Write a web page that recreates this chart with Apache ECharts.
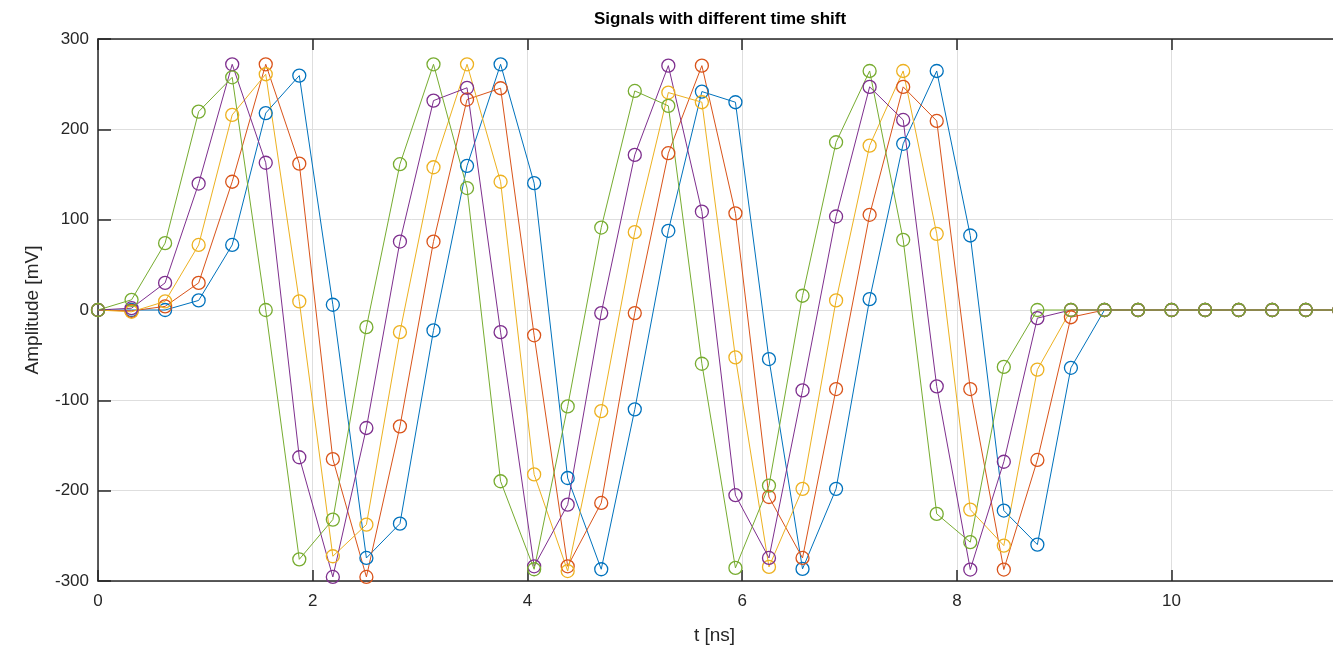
<!DOCTYPE html>
<html>
<head>
<meta charset="utf-8">
<script src="https://cdn.jsdelivr.net/npm/echarts@6/dist/echarts.min.js"></script>
<style>
  html, body { margin: 0; padding: 0; background: #fff; overflow: hidden; }
  /* wider than the window: the axes box runs past the right edge, like the reference */
  #chart { width: 1360px; height: 651px; }
</style>
</head>
<body>
<div id="chart"></div>
<script>
// sample times [ns]
const times = [0, 0.3125, 0.625, 0.9375, 1.25, 1.5625, 1.875, 2.1875, 2.5, 2.8125,
  3.125, 3.4375, 3.75, 4.0625, 4.375, 4.6875, 5, 5.3125, 5.625, 5.9375,
  6.25, 6.5625, 6.875, 7.1875, 7.5, 7.8125, 8.125, 8.4375, 8.75, 9.0625,
  9.375, 9.6875, 10, 10.3125, 10.625, 10.9375, 11.25, 11.5625]

// amplitudes [mV], one array per shifted signal
const blue = [0, 0, 0, 10.6, 72, 218, 259.5, 5.8, -274.5, -236.5,
  -22.6, 159.6, 272, 140.4, -186, -287, -110, 87.7, 241.8, 230,
  -54.3, -286.6, -198, 12, 184, 264.6, 82.5, -222, -259.7, -64,
  0, 0, 0, 0, 0, 0, 0, 0]
const orange = [0, -1, 4, 30, 142, 272, 162, -165, -295.5, -128.8,
  75.8, 233, 245.5, -28, -283.7, -213.6, -3.4, 173.6, 270.5, 107,
  -207, -274.5, -87.5, 105.4, 247, 209.3, -87.5, -287.3, -166, -8,
  0, 0, 0, 0, 0, 0, 0, 0]
const yellow = [0, -2, 9.5, 72, 216, 261, 9.5, -272.6, -237.6, -24.5,
  158, 272, 142, -182, -289, -112, 86.2, 240.7, 230, -52.5,
  -284.4, -198, 10.6, 182, 264.6, 84.3, -221, -260.8, -66, 0,
  0, 0, 0, 0, 0, 0, 0, 0]
const purple = [0, 2, 30, 140, 272, 163, -163, -295.5, -130.6, 75.8,
  231.8, 246, -24.5, -283.7, -215.5, -3.4, 171.7, 270.5, 109, -205,
  -274.5, -89, 103.5, 247, 210.4, -84.5, -287.3, -168, -9, 0,
  0, 0, 0, 0, 0, 0, 0, 0]
const green = [0, 11.3, 74, 219.6, 257.6, 0, -276, -232, -19, 161.4,
  272, 135, -189.6, -287, -106.7, 91.3, 242.5, 226, -59.5, -285.5,
  -194.4, 15.8, 185.7, 264.6, 77.7, -225.7, -257, -63, 0, 0,
  0, 0, 0, 0, 0, 0, 0, 0]

const xTicks = [0, 2, 4, 6, 8, 10]

const signals = [
  { name: 'blue', values: blue, color: '#0072BD' },
  { name: 'orange', values: orange, color: '#D95319' },
  { name: 'yellow', values: yellow, color: '#EDB120' },
  { name: 'purple', values: purple, color: '#7E2F8E' },
  { name: 'green', values: green, color: '#77AC30' }
]

const font = 'Liberation Sans, Arial, sans-serif'
const axisColor = '#262626'

const chart = echarts.init(document.getElementById('chart'))

const series = signals.map((s) => ({
  name: s.name,
  type: 'line',
  data: times.map((t, i) => [t, s.values[i]]),
  symbol: 'circle',
  symbolSize: 13,
  showAllSymbol: true,
  clip: true,
  lineStyle: { color: s.color, width: 1 },
  itemStyle: { color: 'rgba(0,0,0,0)', borderColor: s.color, borderWidth: 1.3 },
  emphasis: { disabled: true }
}))

const option = {
  animation: false,
  backgroundColor: '#fff',
  title: {
    text: 'Signals with different time shift',
    left: 715,
    textAlign: 'center',
    top: 6,
    textStyle: { fontFamily: font, fontSize: 17, fontWeight: 'bold', color: '#000' }
  },
  grid: { left: 98, top: 39, right: 7, bottom: 70, containLabel: false },
  xAxis: [
    {
      type: 'value',
      min: 0,
      max: 11.69,
      interval: 2,
      name: 't [ns]',
      nameLocation: 'middle',
      nameGap: 45,
      // centre the title on the visible part of the axes
      nameTextStyle: { fontFamily: font, fontSize: 19, color: axisColor, padding: [0, 22, 0, 0] },
      axisLine: { show: true, onZero: false, lineStyle: { color: axisColor, width: 1.5 } },
      axisTick: { show: true, inside: true, length: 11, lineStyle: { color: axisColor, width: 1.5 } },
      axisLabel: {
        fontFamily: font, fontSize: 17, color: axisColor, margin: 12,
        formatter: (v) => (xTicks.includes(v) ? String(v) : '')
      },
      splitLine: { show: true, lineStyle: { color: '#dedede', width: 1 } }
    },
    {
      type: 'value',
      position: 'top',
      min: 0,
      max: 11.69,
      interval: 2,
      axisLine: { show: true, onZero: false, lineStyle: { color: axisColor, width: 1.5 } },
      axisTick: { show: true, inside: true, length: 11, lineStyle: { color: axisColor, width: 1.5 } },
      axisLabel: { show: false },
      splitLine: { show: false }
    }
  ],
  yAxis: {
    type: 'value',
    min: -300,
    max: 300,
    interval: 100,
    name: 'Amplitude [mV]',
    nameLocation: 'middle',
    nameGap: 56,
    nameTextStyle: { fontFamily: font, fontSize: 19, color: axisColor },
    axisLine: { show: true, onZero: false, lineStyle: { color: axisColor, width: 1.5 } },
    axisTick: { show: true, inside: true, length: 13, lineStyle: { color: axisColor, width: 1.5 } },
    axisLabel: { fontFamily: font, fontSize: 17, color: axisColor, margin: 9 },
    splitLine: { show: true, lineStyle: { color: '#dedede', width: 1 } }
  },
  series: series
}

chart.setOption(option)
</script>
</body>
</html>
